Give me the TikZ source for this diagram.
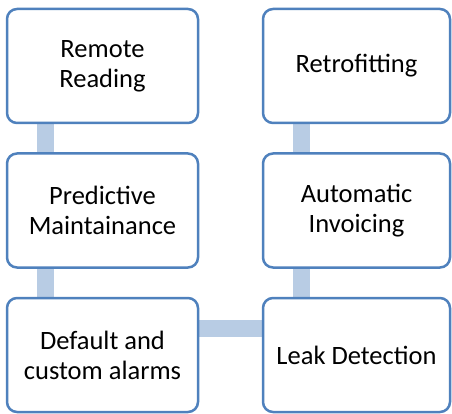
\documentclass[tikz,border=0pt]{standalone}
\usepackage{fontspec}
\setmainfont{Carlito}
\usetikzlibrary{backgrounds}
\definecolor{boxline}{RGB}{79,129,189}
\definecolor{connfill}{RGB}{184,204,228}
\begin{document}
\begin{tikzpicture}[x=1pt,y=-1pt,
  box/.style={draw=boxline, line width=2.5pt, rounded corners=10pt, fill=white,
    minimum height=114pt, align=center, inner sep=0pt,
    font=\fontsize{26.5}{30}\selectfont},
  lbox/.style={box, minimum width=191pt},
  rbox/.style={box, minimum width=187pt},
  conn/.style={draw=connfill, line width=17pt}]
\useasboundingbox (0,0) rectangle (452,414);
\node[lbox] (rr) at (102.5,66) {Remote\\Reading};
\node[lbox] (pm) at (102.5,210.5) {Predictive\\Maintainance};
\node[lbox] (da) at (102.5,355) {Default and\\custom alarms};
\node[rbox] (rf) at (356.5,66) {Retrofitting};
\node[rbox] (ai) at (356.5,210.5) {Automatic\\Invoicing};
\node[rbox] (ld) at (356.5,355) {Leak Detection};
\begin{scope}[on background layer]
\draw[conn] ([xshift=40pt]rr.south west) -- ([xshift=40pt]pm.north west);
\draw[conn] ([xshift=40pt]pm.south west) -- ([xshift=40pt]da.north west);
\draw[conn] ([xshift=40pt]rf.south west) -- ([xshift=40pt]ai.north west);
\draw[conn] ([xshift=40pt]ai.south west) -- ([xshift=40pt]ld.north west);
\draw[conn] ([yshift=27pt]da.east) -- ([yshift=27pt]ld.west);
\end{scope}
\end{tikzpicture}
\end{document}
